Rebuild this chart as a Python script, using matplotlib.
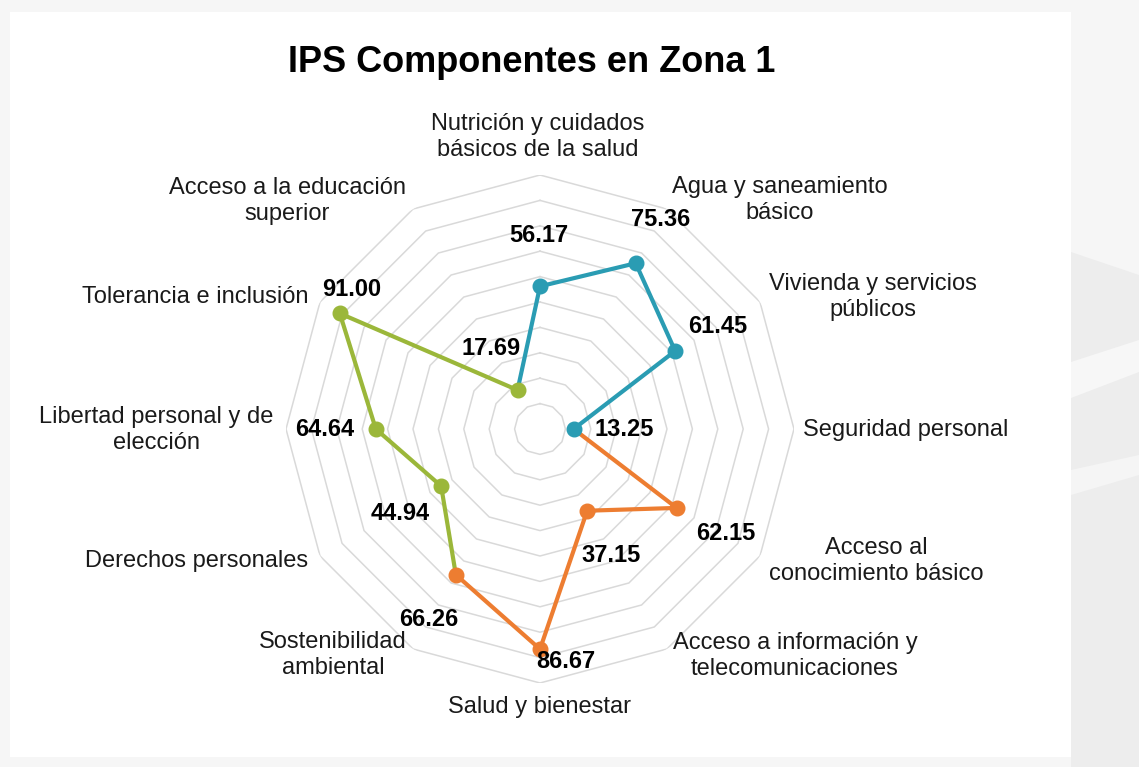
import numpy as np
import matplotlib.pyplot as plt
from matplotlib.patches import Rectangle, Polygon

categorias = ['Nutrición y cuidados\nbásicos de la salud', 'Agua y saneamiento\nbásico',
              'Vivienda y servicios\npúblicos', 'Seguridad personal',
              'Acceso al\nconocimiento básico', 'Acceso a información y\ntelecomunicaciones',
              'Salud y bienestar', 'Sostenibilidad\nambiental', 'Derechos personales',
              'Libertad personal y de\nelección', 'Tolerancia e inclusión',
              'Acceso a la educación\nsuperior']
valores = [56.17, 75.36, 61.45, 13.25, 62.15, 37.15, 86.67, 66.26, 44.94, 64.64, 91.00, 17.69]

# categories owned by each dimension
necesidades = [0, 1, 2, 3]
bienestar = [4, 5, 6, 7]
oportunidades = [8, 9, 10, 11]
colores = ['#2A9CB3', '#ED7D31', '#9BB73A']

# label placement (pixels from top-left of the image)
pos_cat = [(538, 137), (780, 200), (873, 297), (906, 430), (876, 561), (795, 656),
           (539, 707), (333, 655), (197, 561), (156, 430), (195, 297), (287, 201)]
pos_val = [(539, 236), (661, 220), (718, 327), (624, 430), (726, 533), (611, 556),
           (566, 661), (429, 619), (400, 513), (325, 430), (352, 290), (491, 349)]

W, H = 1139, 767
fig = plt.figure(figsize=(W / 100, H / 100), dpi=100)
fig.patch.set_facecolor('#F6F6F6')
plt.rcParams['font.family'] = ['Liberation Sans', 'DejaVu Sans']


def fx(x):
    return x / W


def fy(y):
    return 1 - y / H


# slide background bits around the chart area
bg = dict(transform=fig.transFigure, edgecolor='none', zorder=-5)
fig.patches.append(Rectangle((fx(10), fy(757)), fx(1071) - fx(10), fy(12) - fy(757),
                             facecolor='white', **bg))
fig.patches.append(Polygon([(fx(1071), fy(252)), (fx(1139), fy(275)), (fx(1139), fy(767)), (fx(1071), fy(767))],
                           closed=True, facecolor='#EDEDED', **bg))
fig.patches.append(Polygon([(fx(1071), fy(362)), (fx(1139), fy(340)), (fx(1139), fy(372)), (fx(1071), fy(398))],
                           closed=True, facecolor='#F7F7F7', **bg))
fig.patches.append(Polygon([(fx(1071), fy(470)), (fx(1139), fy(455)), (fx(1139), fy(475)), (fx(1071), fy(495))],
                           closed=True, facecolor='#F5F5F5', **bg))

# polar axes centred on (540, 429) with radius 254 px
cx, cy, R = 540, 429, 254
ax = fig.add_axes([fx(cx - R), fy(cy + R), 2 * R / W, 2 * R / H], projection='polar')
ax.set_zorder(2)
ax.set_facecolor('none')
ax.set_theta_offset(np.pi / 2)
ax.set_theta_direction(-1)
ax.set_ylim(0, 100)
ax.grid(False)
ax.set_xticks([])
ax.set_yticks([])
ax.spines['polar'].set_visible(False)

n = len(categorias)
ang = np.arange(n) * 2 * np.pi / n
ang_c = np.append(ang, ang[0])
for r in range(10, 101, 10):
    ax.plot(ang_c, [r] * (n + 1), color='#D9D9D9', lw=1.1, zorder=1)

vals = np.array(valores)
for idx, col in zip([necesidades, bienestar, oportunidades], colores):
    seg = [(idx[0] - 1) % n] + idx
    ax.plot(ang[seg], vals[seg], color=col, lw=3, zorder=3, solid_capstyle='round')
for idx, col in zip([necesidades, bienestar, oportunidades], colores):
    ax.plot(ang[idx], vals[idx], 'o', color=col, ms=10.5, zorder=4)

for lab, (x, y) in zip(categorias, pos_cat):
    fig.text(fx(x), fy(y), lab, ha='center', va='center', fontsize=17,
             color='#1A1A1A', linespacing=1.22, zorder=5)
for v, (x, y) in zip(valores, pos_val):
    fig.text(fx(x), fy(y), f'{v:.2f}', ha='center', va='center', fontsize=17,
             fontweight='bold', color='black', zorder=5)

fig.text(fx(532), fy(72), 'IPS Componentes en Zona 1', ha='center', va='baseline',
         fontsize=26, fontweight='bold', color='black', zorder=5)

fig.savefig('out.png', dpi=100, facecolor=fig.get_facecolor())
